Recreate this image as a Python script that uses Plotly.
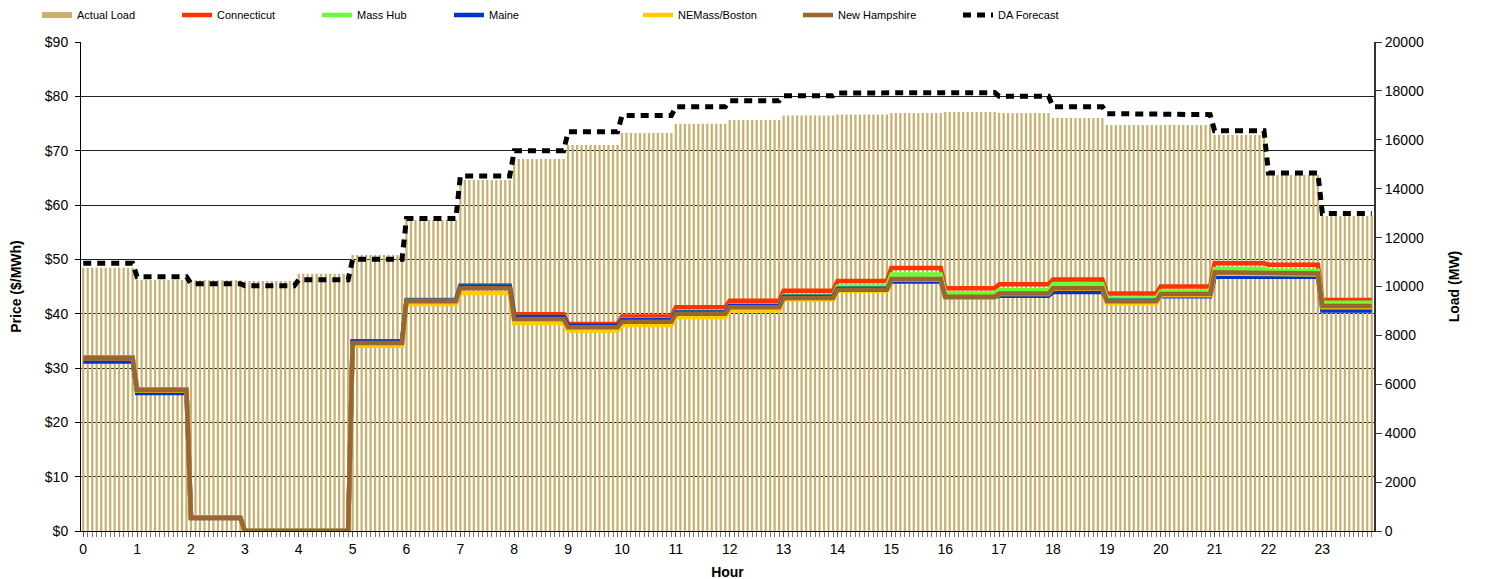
import numpy as np
import plotly.graph_objects as go

# ---- data (hourly values; each hour shown as 12 five-minute intervals) ----
hours = list(range(24))
intervals_per_hour = 12

actual_load = [10770, 10266, 10260, 10225, 10525, 11290, 12720, 14356, 15215, 15787,
               16280, 16660, 16810, 16990, 17030, 17100, 17135, 17100, 16890, 16605,
               16605, 16195, 14560, 12880]
da_forecast = [10950, 10400, 10115, 10035, 10280, 11110, 12780, 14520, 15555, 16330,
               16990, 17355, 17600, 17805, 17915, 17955, 17930, 17780, 17355, 17070,
               17030, 16370, 14640, 12990]

connecticut = [32.0, 26.1, 2.5, 0, 0, 34.9, 42.5, 45.2, 39.9, 38.1, 39.5, 41.2,
               42.4, 44.2, 46.0, 48.4, 44.7, 45.4, 46.3, 43.7, 45.0, 49.3, 49.0, 42.5]
mass_hub = [31.9, 26.0, 2.5, 0, 0, 34.8, 42.4, 45.0, 39.4, 37.8, 38.9, 40.3,
            41.5, 43.3, 45.0, 47.2, 43.7, 44.3, 45.4, 42.8, 44.1, 48.2, 47.9, 42.0]
maine = [31.2, 25.4, 2.4, 0, 0, 34.9, 42.4, 45.0, 39.4, 37.8, 38.8, 40.2,
         41.4, 43.1, 44.6, 45.9, 43.0, 43.3, 44.0, 42.4, 43.2, 46.8, 46.8, 40.6]
nemass_boston = [31.8, 25.8, 2.4, 0, 0, 34.1, 41.8, 43.8, 38.3, 36.9, 37.9, 39.4,
                 40.6, 42.6, 44.2, 46.3, 43.0, 43.6, 44.6, 41.9, 43.4, 47.4, 47.2, 41.2]
new_hampshire = [31.8, 25.9, 2.4, 0, 0, 34.6, 42.3, 44.7, 39.0, 37.5, 38.5, 40.0,
                 41.2, 42.9, 44.4, 46.4, 43.1, 43.7, 44.7, 42.3, 43.6, 47.6, 47.4, 41.4]

price_ticks = list(range(0, 91, 10))
load_ticks = list(range(0, 20001, 2000))

# ---- expand to 5-minute positions ----
t = np.array([h + k / intervals_per_hour for h in hours for k in range(intervals_per_hour)])
def expand(v):
    return np.repeat(np.array(v, dtype=float), intervals_per_hour)

TAN = "#CAB070"
FONT = "Arial, Liberation Sans, sans-serif"

fig = go.Figure()

# Load on base axis (right side), prices on overlay axis (left) so they draw on top
fig.add_trace(go.Bar(x=t, y=expand(actual_load), marker=dict(color=TAN, line=dict(width=0)),
                     name="Actual Load", showlegend=False, yaxis="y"))
fig.add_trace(go.Scatter(x=[None], y=[None], mode="lines", line=dict(color=TAN, width=6),
                         name="Actual Load", legend="legend"))

series = [
    ("Connecticut", connecticut, "#FF3300", "legend2"),
    ("Mass Hub", mass_hub, "#66FF33", "legend3"),
    ("Maine", maine, "#0033CC", "legend4"),
    ("NEMass/Boston", nemass_boston, "#FFCC00", "legend5"),
    ("New Hampshire", new_hampshire, "#996633", "legend6"),
]
for name, vals, col, lg in series:
    fig.add_trace(go.Scatter(x=t, y=expand(vals), mode="lines", name=name,
                             line=dict(color=col, width=4.5), yaxis="y2", legend=lg))

fig.add_trace(go.Scatter(x=t, y=expand(da_forecast), mode="lines", name="DA Forecast",
                         line=dict(color="black", width=5, dash="8px,6px"),
                         yaxis="y", legend="legend7"))

W, H = 1489, 579
OFF = 8  # page body offset
text_x = [77, 217, 357, 489, 678, 838, 998]
legend_layout = {}
for i, tx in enumerate(text_x):
    key = "legend" if i == 0 else f"legend{i+1}"
    legend_layout[key] = dict(xref="container", yref="container", x=(tx - 48) / W,
                              y=1 - (15 - OFF) / H, xanchor="left", yanchor="middle",
                              orientation="h", bgcolor="rgba(0,0,0,0)",
                              font=dict(family=FONT, size=11, color="black"),
                              borderwidth=0, tracegroupgap=0)

fig.update_layout(
    width=W, height=H,
    margin=dict(l=81 - OFF, r=115 + OFF, t=42 - OFF, b=48 + OFF, autoexpand=False),
    plot_bgcolor="white", paper_bgcolor="white",
    bargap=0.5,
    font=dict(family=FONT, color="black"),
    xaxis=dict(range=[-0.5 / intervals_per_hour, 24 - 0.5 / intervals_per_hour],
               tickmode="array", tickvals=hours, ticktext=[str(h) for h in hours],
               ticks="outside", ticklen=5, tickcolor="#555",
               minor=dict(dtick=1 / intervals_per_hour, tick0=0, ticks="outside",
                          ticklen=5, tickcolor="#777", showgrid=False),
               showgrid=False, showline=True, linecolor="black", linewidth=1,
               tickfont=dict(size=14), zeroline=False, automargin=False,
               title=dict(text="<b>Hour</b>", font=dict(size=14), standoff=11)),
    yaxis=dict(side="right", range=[0, 20000], tickmode="array", tickvals=load_ticks,
               ticktext=[str(v) for v in load_ticks],
               showgrid=False, showline=True, linecolor="#333", linewidth=2,
               ticks="outside", ticklen=6, tickcolor="#333", zeroline=False,
               tickfont=dict(size=14), automargin=False,
               title=dict(text="<b>Load (MW)</b>", font=dict(size=14), standoff=26)),
    yaxis2=dict(overlaying="y", side="left", range=[0, 90], tickmode="array",
                tickvals=price_ticks, ticktext=[f"${v}" for v in price_ticks],
                showgrid=True, gridcolor="#222", gridwidth=1,
                showline=True, linecolor="black", linewidth=1,
                ticks="outside", ticklen=5, tickcolor="black", zeroline=False,
                tickfont=dict(size=14), automargin=False, ticklabelstandoff=4,
                title=dict(text="<b>Price ($/MWh)</b>", font=dict(size=14), standoff=22)),
    **legend_layout,
)

fig.write_html("out.html")
